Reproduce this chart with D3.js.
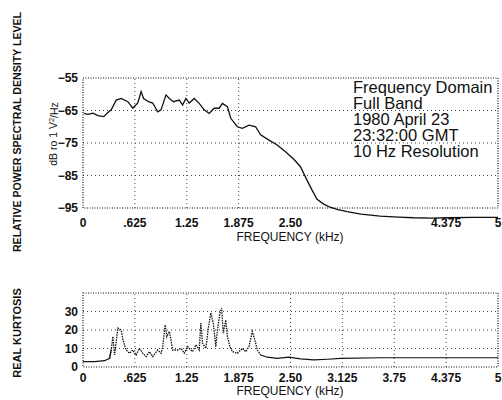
<!DOCTYPE html>
<html>
<head>
<meta charset="utf-8">
<script src="https://cdn.jsdelivr.net/npm/d3@7"></script>
<style>
  body { margin: 0; background: #fff; }
  text { font-family: "Liberation Sans", Arial, sans-serif; fill: #111; }
</style>
</head>
<body>
<div id="chart"></div>
<script>
// Power spectral density (dB re 1 V^2/Hz) vs frequency (kHz)
const psdFreq = [0.01, 0.06, 0.12, 0.18, 0.25, 0.30, 0.34, 0.40, 0.46, 0.54, 0.60, 0.66, 0.70, 0.73, 0.79, 0.84, 0.90, 0.94,
  1.00, 1.04, 1.09, 1.16, 1.20, 1.24, 1.28, 1.34, 1.40, 1.46, 1.52, 1.58, 1.64, 1.68, 1.74, 1.78, 1.86, 1.92, 2.00,
  2.08, 2.14, 2.24, 2.34, 2.44, 2.54, 2.62, 2.70, 2.76, 2.82, 2.90, 2.96, 3.06, 3.18, 3.35, 3.58, 3.80, 3.98, 4.20, 4.40, 4.70, 5.00];
const psdDb = [-65.9, -66.2, -65.8, -66.6, -66.9, -65.6, -64.8, -61.8, -61.3, -62.3, -64.3, -62.7, -59.2, -61.3, -62.3, -62.7, -65.4, -64.8,
  -60.2, -61.3, -62.3, -61.8, -63.3, -61.3, -62.7, -61.3, -62.8, -64.8, -65.9, -64.3, -64.3, -62.8, -63.8, -67.4, -70.0, -70.5, -69.5,
  -70.0, -72.5, -74.1, -75.6, -77.7, -80.0, -82.3, -86.5, -89.5, -92.3, -93.8, -94.6, -95.4, -96.1, -96.9, -97.5, -97.8, -98.0, -98.1, -98.0, -97.9, -97.9];

// Real kurtosis vs frequency (kHz)
const kurtFreq = [0.00, 0.14, 0.26, 0.32, 0.34, 0.36, 0.38, 0.42, 0.46, 0.48, 0.52, 0.56, 0.60, 0.64, 0.68, 0.72, 0.76, 0.80, 0.84,
  0.90, 0.94, 0.96, 0.99, 1.01, 1.04, 1.06, 1.08, 1.14, 1.18, 1.22, 1.26, 1.32, 1.36, 1.40, 1.42, 1.44, 1.48, 1.51, 1.54,
  1.57, 1.60, 1.62, 1.65, 1.67, 1.69, 1.72, 1.74, 1.77, 1.80, 1.86, 1.92, 1.96, 2.00, 2.04, 2.07, 2.10, 2.14, 2.22, 2.34,
  2.48, 2.62, 2.78, 2.95, 3.10, 3.58, 4.20, 5.00];
const kurtVal = [2.9, 2.9, 3.4, 4.7, 9.2, 16.5, 6.5, 21.0, 20.0, 14.7, 9.2, 7.4, 9.2, 6.5, 10.1, 7.4, 5.6, 8.3, 5.6,
  9.2, 7.4, 11.0, 22.8, 16.5, 19.2, 14.7, 9.2, 9.2, 10.1, 7.4, 11.0, 8.3, 12.0, 9.2, 23.7, 12.9, 10.1, 21.0, 29.2,
  23.7, 11.0, 20.0, 29.2, 31.9, 18.3, 25.5, 16.5, 11.0, 8.3, 7.4, 10.1, 8.3, 11.0, 19.2, 14.7, 9.2, 6.5, 5.3, 4.7,
  5.3, 4.4, 3.8, 4.2, 4.7, 5.0, 5.0, 5.0];

const freqTicks = [0, 0.625, 1.25, 1.875, 2.5, 3.125, 3.75, 4.375, 5];
const freqLabels = ["0", ".625", "1.25", "1.875", "2.50", "3.125", "3.75", "4.375", "5"];
const topFreqTicks = [0, 0.625, 1.25, 1.875, 2.5, 4.375, 5];
const psdTicks = [-55, -65, -75, -85, -95];
const kurtTicks = [0, 10, 20, 30];

const topGridX = [0.625, 1.25, 1.875];
const topGridY = [-65, -75, -85];
const botGridX = [0.625, 1.25, 2.5, 3.125, 3.75, 4.375];
const botGridY = [10, 20, 30];

const infoLines = ["Frequency Domain", "Full Band", "1980 April 23", "23:32:00 GMT", "10 Hz Resolution"];

const width = 502, height = 400;

const svg = d3.select("#chart").append("svg")
  .attr("width", width)
  .attr("height", height);

svg.append("rect").attr("width", width).attr("height", height).attr("fill", "#fff");

const x = d3.scaleLinear().domain([0, 5]).range([83, 498]);
const yTop = d3.scaleLinear().domain([-95, -55]).range([208, 78]);
const yBot = d3.scaleLinear().domain([0, 40]).range([367, 293]);

const fmtLabel = v => freqLabels[freqTicks.indexOf(v)];

function panel(y, gridX, gridY, ticksX, ticksY, labelY, tickGap, titleGap) {
  const g = svg.append("g");
  const [y0, y1] = y.domain();

  // dotted grid
  g.selectAll(".gx").data(gridX).join("line")
    .attr("x1", d => x(d)).attr("x2", d => x(d))
    .attr("y1", y(y0)).attr("y2", y(y1))
    .attr("stroke", "#444").attr("stroke-width", 1).attr("stroke-dasharray", "1,3");
  g.selectAll(".gy").data(gridY).join("line")
    .attr("x1", x(0)).attr("x2", x(5))
    .attr("y1", d => y(d)).attr("y2", d => y(d))
    .attr("stroke", "#444").attr("stroke-width", 1).attr("stroke-dasharray", "1,3");

  // dotted frame
  g.append("rect")
    .attr("x", x(0)).attr("y", y(y1))
    .attr("width", x(5) - x(0)).attr("height", y(y0) - y(y1))
    .attr("fill", "none").attr("stroke", "#111").attr("stroke-width", 1.2)
    .attr("stroke-dasharray", "1,1.5");

  // tick labels
  g.selectAll(".tx").data(ticksX).join("text")
    .attr("x", d => x(d)).attr("y", y(y0) + tickGap)
    .attr("text-anchor", "middle").style("font-size", "12px").style("font-weight", "bold")
    .text(fmtLabel);
  g.selectAll(".ty").data(ticksY).join("text")
    .attr("x", 78).attr("y", d => y(d)).attr("dy", "0.35em")
    .attr("text-anchor", "end").style("font-size", "12px").style("font-weight", "bold")
    .text(labelY);

  g.append("text")
    .attr("x", 290).attr("y", y(y0) + titleGap)
    .attr("text-anchor", "middle").style("font-size", "12px")
    .text("FREQUENCY (kHz)");
  return g;
}

panel(yTop, topGridX, topGridY, topFreqTicks, psdTicks, d => "\u2212" + Math.abs(d), 19, 33);
panel(yBot, botGridX, botGridY, freqTicks, kurtTicks, d => d, 15, 28);

// PSD curve
const psd = psdFreq.map((f, i) => ({ f, v: psdDb[i] }));
svg.append("path")
  .datum(psd)
  .attr("fill", "none").attr("stroke", "#111").attr("stroke-width", 1.3)
  .attr("d", d3.line().x(d => x(d.f)).y(d => yTop(d.v)));

// Kurtosis: smooth base solid, spiky band dotted
const kurt = kurtFreq.map((f, i) => ({ f, v: kurtVal[i] }));
const kLine = d3.line().x(d => x(d.f)).y(d => yBot(d.v));
svg.append("path")
  .datum(kurt.filter(d => d.f <= 0.34))
  .attr("fill", "none").attr("stroke", "#111").attr("stroke-width", 1.2)
  .attr("d", kLine);
svg.append("path")
  .datum(kurt.filter(d => d.f >= 0.32 && d.f <= 2.16))
  .attr("fill", "none").attr("stroke", "#111").attr("stroke-width", 1.3)
  .attr("stroke-dasharray", "1.5,1")
  .attr("d", kLine);
svg.append("path")
  .datum(kurt.filter(d => d.f >= 2.14))
  .attr("fill", "none").attr("stroke", "#111").attr("stroke-width", 1.2)
  .attr("d", kLine);

// Info block
svg.append("text")
  .attr("x", 353).attr("y", 93)
  .style("font-size", "16.5px")
  .selectAll("tspan").data(infoLines).join("tspan")
  .attr("x", 353).attr("dy", (d, i) => i === 0 ? 0 : 16)
  .text(d => d);

// Axis titles
svg.append("text")
  .attr("transform", "translate(21,132) rotate(-90)")
  .attr("text-anchor", "middle")
  .style("font-size", "10.6px").style("font-weight", "bold")
  .text("RELATIVE POWER SPECTRAL DENSITY LEVEL");

const dbLabel = svg.append("text")
  .attr("transform", "translate(57,134) rotate(-90)")
  .attr("text-anchor", "middle")
  .style("font-size", "10.5px");
dbLabel.append("tspan").text("dB ro 1 V");
dbLabel.append("tspan").attr("dy", "-0.4em").style("font-size", "7.5px").text("2");
dbLabel.append("tspan").attr("dy", "0.4em").text("/Hz");

svg.append("text")
  .attr("transform", "translate(21,333) rotate(-90)")
  .attr("text-anchor", "middle")
  .style("font-size", "11px").style("font-weight", "bold")
  .text("REAL KURTOSIS");
</script>
</body>
</html>
